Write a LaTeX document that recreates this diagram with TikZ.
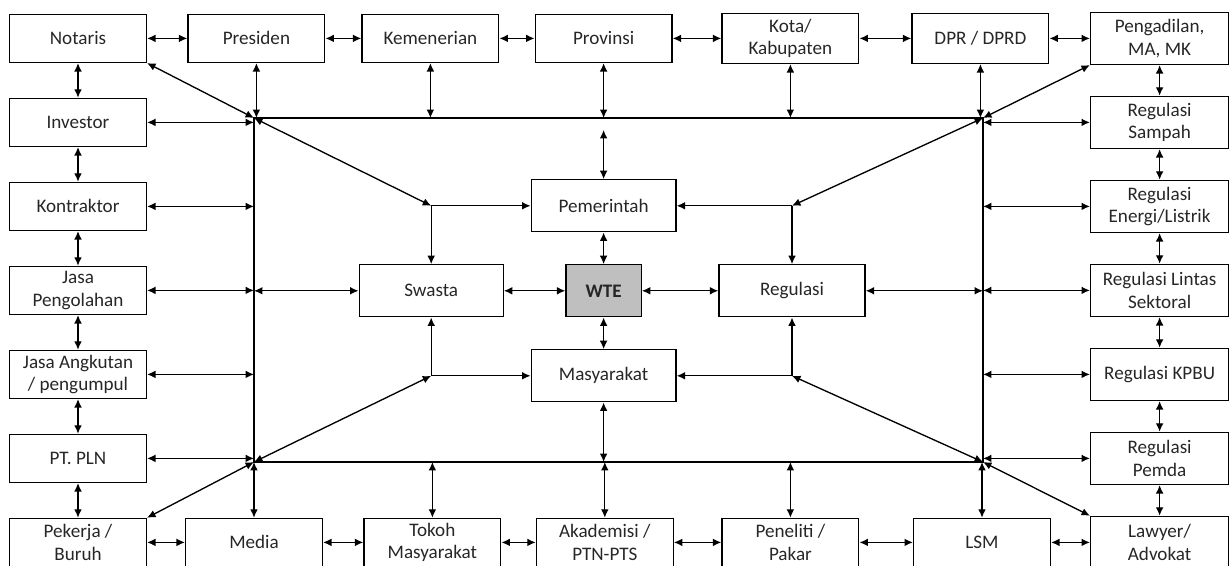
\documentclass[tikz,border=0pt]{standalone}
\usepackage{fontspec}
\setmainfont{Carlito}
\usepackage{xcolor}
\usepackage{tikz}
\usetikzlibrary{arrows.meta, positioning, calc}
\tikzstyle{link} = [line width=0.95pt,<->,>={Latex[length=6pt,width=5.5pt]}]
\tikzstyle{feed} = [line width=0.95pt,->,>={Latex[length=6pt,width=5.5pt]}]

\begin{document}
\begin{tikzpicture}[node distance=2.1cm, on grid]
        \tikzstyle{box}=[
            rectangle,
            draw,
            line width=0.95pt,
            minimum width=3.42cm,
            minimum height=1.2cm, % most boxes
            inner sep=0pt,
            align=center,
            text=black!85,
            font=\fontsize{13.6}{16}\selectfont
        ]
        \tikzstyle{tallbox}=[box, minimum height=1.3cm]

        \useasboundingbox (0,0) rectangle (30.75,-14.15);

        % top row
        \node[box] (notaris) at (1.95,-0.96) {Notaris};
        \node[box] (presiden) [right=4.46cm of notaris] {Presiden};
        \node[box] (kemenerian) [right=4.35cm of presiden] {Kemenerian};
        \node[box] (provinsi) [right=4.33cm of kemenerian] {Provinsi};
        \node[box, minimum height=1.25cm] (kota) [right=4.67cm of provinsi] {Kota/\\Kabupaten};
        \node[box, minimum height=1.25cm] (dpr) [right=4.75cm of kota] {DPR / DPRD};
        \node[tallbox, minimum width=3.45cm] (pengadilan) [right=4.48cm of dpr] {Pengadilan,\\MA, MK};

        % left column
        \node[box] (investor) [below=of notaris] {Investor};
        \node[box] (kontraktor) [below=of investor] {Kontraktor};
        \node[box] (pengolahan) [below=of kontraktor] {Jasa\\Pengolahan};
        \node[box] (angkutan) [below=of pengolahan] {Jasa Angkutan\\/ pengumpul};
        \node[box] (pln) [below=of angkutan] {PT. PLN};
        \node[box] (pekerja) [below=of pln] {Pekerja /\\Buruh};

        % right column
        \node[tallbox, minimum width=3.45cm] (sampah) [below=of pengadilan] {Regulasi\\Sampah};
        \node[tallbox, minimum width=3.45cm] (energi) [below=of sampah] {Regulasi\\Energi/Listrik};
        \node[tallbox, minimum width=3.45cm] (lintas) [below=of energi] {Regulasi Lintas\\Sektoral};
        \node[tallbox, minimum width=3.45cm] (kpbu) [below=of lintas] {Regulasi KPBU};
        \node[tallbox, minimum width=3.45cm] (pemda) [below=of kpbu] {Regulasi\\Pemda};
        \node[tallbox, minimum width=3.45cm] (lawyer) [below=of pemda] {Lawyer/\\Advokat};

        % bottom row
        \node[box] (media) [right=4.4cm of pekerja] {Media};
        \node[box] (tokoh) [right=4.46cm of media] {Tokoh\\Masyarakat};
        \node[box] (akademisi) [right=4.31cm of tokoh] {Akademisi /\\PTN-PTS};
        \node[box] (peneliti) [right=4.64cm of akademisi] {Peneliti /\\Pakar};
        \node[box] (lsm) [right=4.79cm of peneliti] {LSM};

        % centre
        \node[tallbox, minimum width=1.88cm, fill=black!25, font=\fontsize{13.6}{16}\selectfont\bfseries] (wte) [below=6.31cm of provinsi] {WTE};
        \node[tallbox, minimum width=3.62cm] (pemerintah) [above=2.125cm of wte] {Pemerintah};
        \node[tallbox, minimum width=3.62cm] (masyarakat) [below=2.125cm of wte] {Masyarakat};
        \node[tallbox, minimum width=3.6cm] (swasta) [left=4.31cm of wte] {Swasta};
        \node[tallbox, minimum width=3.65cm] (regulasi) [right=4.71cm of wte] {Regulasi};

        % bus frame
        \coordinate (tl) at (6.35,-2.95);
        \coordinate (br) at (24.575,-11.55);
        \coordinate (tr) at (br |- tl);
        \coordinate (bl) at (tl |- br);
        \draw[line width=0.95pt] (tl) rectangle (br);

        \coordinate (jsw) at (swasta |- pemerintah);
        \coordinate (jrg) at (regulasi |- pemerintah);
        \coordinate (jsb) at (swasta |- masyarakat);
        \coordinate (jrb) at (regulasi |- masyarakat);

        \path[link]
        (notaris) edge (presiden)
        (presiden) edge (kemenerian)
        (kemenerian) edge (provinsi)
        (provinsi) edge (kota)
        (kota) edge (dpr)
        (dpr) edge (pengadilan)

        (notaris) edge (investor)
        (investor) edge (kontraktor)
        (kontraktor) edge (pengolahan)
        (pengolahan) edge (angkutan)
        (angkutan) edge (pln)
        (pln) edge (pekerja)

        (pengadilan) edge (sampah)
        (sampah) edge (energi)
        (energi) edge (lintas)
        (lintas) edge (kpbu)
        (kpbu) edge (pemda)
        (pemda) edge (lawyer)

        (pekerja) edge (media)
        (media) edge (tokoh)
        (tokoh) edge (akademisi)
        (akademisi) edge (peneliti)
        (peneliti) edge (lsm)
        (lsm) edge (lawyer);

        % to the frame
        \path[link]
        (notaris.south east) edge (tl)
        (investor.east) edge (investor.east -| tl)
        (kontraktor.east) edge (kontraktor.east -| tl)
        (pengolahan.east) edge (pengolahan.east -| tl)
        (angkutan.east) edge (angkutan.east -| tl)
        (pln.east) edge (pln.east -| tl)
        (pekerja.north east) edge (bl)

        (presiden.south) edge (presiden.south |- tl)
        (kemenerian.south) edge (kemenerian.south |- tl)
        (provinsi.south) edge (provinsi.south |- tl)
        (kota.south) edge (kota.south |- tl)
        (dpr.south) edge (dpr.south |- tl)
        (pengadilan.south west) edge (tr)

        (sampah.west) edge (sampah.west -| tr)
        (energi.west) edge (energi.west -| tr)
        (lintas.west) edge (lintas.west -| tr)
        (kpbu.west) edge (kpbu.west -| tr)
        (pemda.west) edge (pemda.west -| tr)
        (lawyer.north west) edge (br)

        (media.north) edge (media.north |- bl)
        (tokoh.north) edge (tokoh.north |- bl)
        (akademisi.north) edge (akademisi.north |- bl)
        (peneliti.north) edge (peneliti.north |- bl)
        (lsm.north) edge (lsm.north |- bl);

        % inside the frame
        \path[link]
        (pemerintah |- tl) edge[shorten <=0.3cm] (pemerintah)
        (masyarakat) edge (masyarakat |- bl)
        (swasta) edge (swasta -| tl)
        (regulasi) edge (regulasi -| tr)
        (tl) edge (jsw)
        (tr) edge (jrg)
        (bl) edge (jsb)
        (br) edge (jrb)
        (swasta) edge (wte)
        (wte) edge (regulasi)
        (pemerintah) edge (wte)
        (wte) edge (masyarakat);

        \path[feed]
        (jsw) edge (pemerintah)
        (jsw) edge (swasta)
        (jrg) edge (pemerintah)
        (jrg) edge (regulasi)
        (jsb) edge (masyarakat)
        (jsb) edge (swasta)
        (jrb) edge (masyarakat)
        (jrb) edge (regulasi);

    \end{tikzpicture}
\end{document}
